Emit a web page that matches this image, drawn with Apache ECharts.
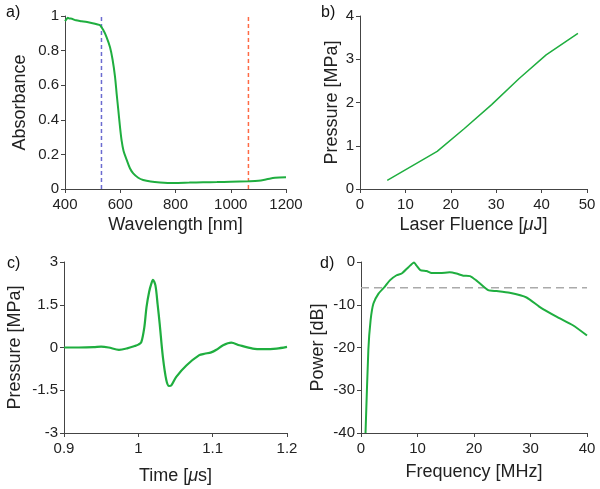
<!DOCTYPE html>
<html>
<head>
<meta charset="utf-8">
<script src="https://cdn.jsdelivr.net/npm/echarts@6/dist/echarts.min.js"></script>
<style>
  html, body { margin: 0; padding: 0; background: #fff; }
  #chart { width: 600px; height: 489px; }
</style>
</head>
<body>
<div id="chart"></div>
<script>
// a) absorbance spectrum
const wavelength = [400, 405, 410, 415, 420, 440, 460, 480, 500, 515, 527, 539, 550, 563, 572, 581, 587, 593, 599, 605, 612, 623, 635, 647, 665, 683, 710, 744, 792, 850, 900, 950, 1000, 1064, 1100, 1130, 1160, 1200];
const absorbance = [0.97, 0.98, 0.99, 0.985, 0.985, 0.975, 0.97, 0.965, 0.958, 0.952, 0.946, 0.917, 0.88, 0.82, 0.75, 0.65, 0.55, 0.456, 0.36, 0.28, 0.22, 0.17, 0.12, 0.09, 0.065, 0.052, 0.043, 0.038, 0.035, 0.037, 0.039, 0.04, 0.042, 0.045, 0.048, 0.056, 0.065, 0.068];
const laserLines = [532, 1064];

// b) pressure vs fluence
const fluence = [6, 17, 23, 29, 35, 41, 48];
const pressureB = [0.2, 0.87, 1.4, 1.95, 2.55, 3.1, 3.6];

// c) pressure waveform
const time = [0.9, 0.92, 0.94, 0.95, 0.96, 0.974, 0.985, 0.995, 1.0, 1.004, 1.008, 1.011, 1.0145, 1.0175, 1.0197, 1.023, 1.026, 1.0287, 1.033, 1.0377, 1.0413, 1.0444, 1.051, 1.0646, 1.082, 1.089, 1.098, 1.105, 1.114, 1.125, 1.136, 1.154, 1.168, 1.186, 1.2];
const pressureC = [0, 0, 0.01, 0.03, 0, -0.08, -0.03, 0.05, 0.1, 0.19, 0.7, 1.42, 1.95, 2.24, 2.37, 2.18, 1.5, 0.84, -0.33, -1.15, -1.35, -1.33, -1.03, -0.63, -0.27, -0.22, -0.17, -0.08, 0.08, 0.17, 0.08, -0.04, -0.06, -0.04, 0.02];

// d) power spectrum
const freq = [0.8, 1.3, 1.7, 2.2, 3.1, 4.2, 5.1, 6.3, 7.2, 8.4, 9.4, 9.8, 10.5, 11.6, 12.5, 14, 15.7, 16.9, 18.1, 19.3, 20.4, 22.5, 24, 26.3, 29.3, 31.6, 34.6, 37.5, 40];
const power = [-40, -20.6, -13.6, -9.7, -7.4, -5.8, -4.3, -3.1, -2.7, -1.2, -0.1, -0.8, -1.9, -2.1, -2.6, -2.6, -2.4, -2.7, -3.2, -3.3, -4.3, -6.6, -6.8, -7.2, -8.3, -10.5, -12.8, -14.8, -17.2];
const cutoffDb = -6;

const green = '#1fae3f';
const font = 'Liberation Sans, Arial, sans-serif';

function zip(xs, ys) {
    return xs.map((x, i) => [x, ys[i]]);
}

function xAxisOf(grid, min, max, interval, name, nameGap) {
    return {
        gridIndex: grid,
        type: 'value',
        min: min,
        max: max,
        interval: interval,
        name: name,
        nameLocation: 'middle',
        nameGap: nameGap,
        nameTextStyle: {
            fontSize: 18,
            color: '#222',
            fontFamily: font,
            rich: { i: { fontSize: 18, fontStyle: 'italic', color: '#222', fontFamily: font } },
        },
        axisLine: { show: true, onZero: false, lineStyle: { color: '#444', width: 1 } },
        axisTick: { show: true, length: 4, lineStyle: { color: '#444' } },
        axisLabel: {
            fontSize: 15,
            color: '#222',
            fontFamily: font,
            margin: 8,
            formatter: (v) => String(+v.toFixed(4)),
        },
        splitLine: { show: false },
    };
}

function yAxisOf(grid, min, max, interval, name, nameGap) {
    const ax = xAxisOf(grid, min, max, interval, name, nameGap);
    ax.axisLabel.margin = 6;
    return ax;
}

const chart = echarts.init(document.getElementById('chart'));

chart.setOption({
    animation: false,
    backgroundColor: '#fff',
    grid: [
        { left: 65, right: 314, top: 16, bottom: 300, outerBoundsMode: 'none' },
        { left: 360, right: 13, top: 16, bottom: 300, outerBoundsMode: 'none' },
        { left: 64, right: 313, top: 262, bottom: 56, outerBoundsMode: 'none' },
        { left: 361, right: 13, top: 262, bottom: 56, outerBoundsMode: 'none' },
    ],
    xAxis: [
        xAxisOf(0, 400, 1200, 200, 'Wavelength [nm]', 27),
        xAxisOf(1, 0, 50, 10, 'Laser Fluence [{i|μ}J]', 27),
        xAxisOf(2, 0.9, 1.2, 0.1, 'Time [{i|μ}s]', 34),
        xAxisOf(3, 0, 40, 10, 'Frequency [MHz]', 30),
    ],
    yAxis: [
        yAxisOf(0, 0, 1, 0.2, 'Absorbance', 36),
        yAxisOf(1, 0, 4, 1, 'Pressure [MPa]', 19),
        yAxisOf(2, -3, 3, 1.5, 'Pressure [MPa]', 40),
        yAxisOf(3, -40, 0, 10, 'Power [dB]', 34),
    ],
    graphic: [
        { type: 'text', left: 6, top: 5, style: { text: 'a)', fontSize: 16, fill: '#111', fontFamily: font } },
        { type: 'text', left: 321, top: 5, style: { text: 'b)', fontSize: 16, fill: '#111', fontFamily: font } },
        { type: 'text', left: 7, top: 256, style: { text: 'c)', fontSize: 16, fill: '#111', fontFamily: font } },
        { type: 'text', left: 320, top: 256, style: { text: 'd)', fontSize: 16, fill: '#111', fontFamily: font } },
    ],
    series: [
        {
            type: 'line',
            xAxisIndex: 0,
            yAxisIndex: 0,
            data: [[laserLines[0], 0], [laserLines[0], 1]],
            showSymbol: false,
            lineStyle: { color: '#6b6bd0', width: 1.5, type: [4, 3] },
            z: 1,
        },
        {
            type: 'line',
            xAxisIndex: 0,
            yAxisIndex: 0,
            data: [[laserLines[1], 0], [laserLines[1], 1]],
            showSymbol: false,
            lineStyle: { color: '#ff6a45', width: 1.5, type: [4, 3] },
            z: 1,
        },
        {
            type: 'line',
            xAxisIndex: 0,
            yAxisIndex: 0,
            data: zip(wavelength, absorbance),
            showSymbol: false,
            smooth: 0.3,
            lineStyle: { color: green, width: 2 },
            z: 3,
        },
        {
            type: 'line',
            xAxisIndex: 1,
            yAxisIndex: 1,
            data: zip(fluence, pressureB),
            showSymbol: false,
            lineStyle: { color: green, width: 1.5 },
        },
        {
            type: 'line',
            xAxisIndex: 2,
            yAxisIndex: 2,
            data: zip(time, pressureC),
            showSymbol: false,
            smooth: 0.3,
            lineStyle: { color: green, width: 2.2 },
        },
        {
            type: 'line',
            xAxisIndex: 3,
            yAxisIndex: 3,
            data: [[0, cutoffDb], [40, cutoffDb]],
            showSymbol: false,
            lineStyle: { color: '#aaa', width: 1.5, type: [8, 5] },
            z: 1,
        },
        {
            type: 'line',
            xAxisIndex: 3,
            yAxisIndex: 3,
            data: zip(freq, power),
            showSymbol: false,
            smooth: 0.2,
            lineStyle: { color: green, width: 2 },
            z: 3,
        },
    ],
});
</script>
</body>
</html>
